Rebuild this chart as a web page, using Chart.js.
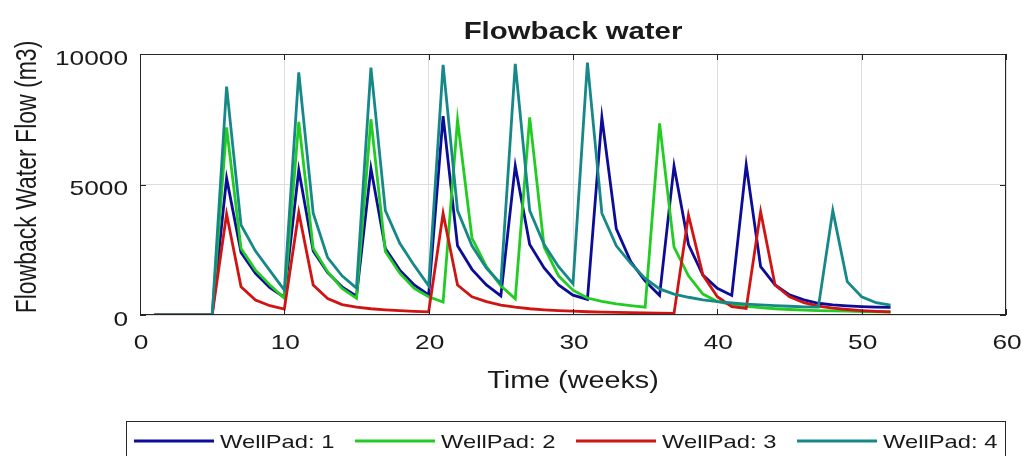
<!DOCTYPE html>
<html>
<head>
<meta charset="utf-8">
<script src="https://cdn.jsdelivr.net/npm/chart.js@4/dist/chart.umd.min.js"></script>
<style>
  html, body { margin: 0; padding: 0; background: #fff; }
  #wrap { width: 1026px; height: 456px; }
</style>
</head>
<body>
<div id="wrap"><canvas id="flowChart" width="1026" height="456"></canvas></div>
<script>
const weeks = [1,2,3,4,5,6,7,8,9,10,11,12,13,14,15,16,17,18,19,20,21,22,23,24,25,26,
  27,28,29,30,31,32,33,34,35,36,37,38,39,40,41,42,43,44,45,46,47,48,49,50,51,52];

const wellPad1 = [0,0,0,0,0,5240,2400,1600,1050,680,5560,2450,1620,1080,720,5620,2550,1720,1150,770,
  7620,2650,1750,1150,730,5710,2700,1800,1150,760,600,7570,3300,2050,1300,750,5710,2700,1530,1020,
  750,5750,1850,1150,770,580,450,390,350,320,300,290];
const wellPad2 = [0,0,0,0,0,7190,2550,1720,1150,640,7400,2550,1660,1020,640,7500,2430,1600,1020,700,
  500,7470,2950,1850,1120,620,7570,2600,1500,950,650,520,430,360,300,7340,2600,1500,800,520,
  400,330,280,240,210,190,170,155,145,135,125,115];
const wellPad3 = [0,0,0,0,0,3870,1085,575,357,230,3930,1150,630,400,300,240,200,165,140,120,
  3890,1150,700,510,380,300,240,200,170,145,125,110,100,90,80,70,60,3830,1530,700,
  320,255,3960,1150,700,470,340,260,210,170,140,120];
const wellPad4 = [0,0,0,0,0,8750,3450,2450,1700,950,9300,3900,2200,1500,1030,9480,4000,2750,1900,1120,
  9580,4000,2650,1800,1200,9620,4000,2700,1850,1200,9670,3900,2650,1980,1400,1000,800,680,580,510,
  460,420,390,360,335,315,300,4000,1280,700,470,380];

const seriesLabels = ['WellPad: 1', 'WellPad: 2', 'WellPad: 3', 'WellPad: 4'];
const seriesValues = [wellPad1, wellPad2, wellPad3, wellPad4];
const seriesColors = ['#0c0c98', '#22cc22', '#d01414', '#168888'];

const xTicks = [0, 10, 20, 30, 40, 50, 60];
const yTicks = [0, 5000, 10000];

const SX = 1.25;           // the reference is stretched sideways
const FONT = '"Liberation Sans", Arial, sans-serif';
const INK = '#1a1a1a';

function stretchedText(ctx, text, x, y, align, font) {
  ctx.save();
  ctx.font = font;
  ctx.fillStyle = INK;
  ctx.textAlign = align;
  ctx.textBaseline = 'middle';
  ctx.translate(x, y);
  ctx.scale(SX, 1);
  ctx.fillText(text, 0, 0);
  ctx.restore();
}

// axes box, inner ticks, labels, title and legend in the matlab look
const matlabFrame = {
  id: 'matlabFrame',
  afterDraw(chart) {
    const ctx = chart.ctx;
    const a = chart.chartArea;
    const xs = chart.scales.x, ys = chart.scales.y;

    ctx.save();
    ctx.strokeStyle = '#262626';
    ctx.lineWidth = 1;
    ctx.strokeRect(a.left + 0.5, a.top + 0.5, a.right - a.left - 1, a.bottom - a.top - 1);
    ctx.beginPath();
    xTicks.forEach(v => {
      const px = Math.round(xs.getPixelForValue(v)) + 0.5;
      ctx.moveTo(px, a.bottom); ctx.lineTo(px, a.bottom - 6);
      ctx.moveTo(px, a.top); ctx.lineTo(px, a.top + 6);
    });
    yTicks.forEach(v => {
      const py = Math.round(ys.getPixelForValue(v)) + 0.5;
      ctx.moveTo(a.left, py); ctx.lineTo(a.left + 6, py);
      ctx.moveTo(a.right, py); ctx.lineTo(a.right - 6, py);
    });
    ctx.stroke();
    ctx.restore();

    const tickFont = '21px ' + FONT;
    xTicks.forEach(v => stretchedText(ctx, String(v), xs.getPixelForValue(v) + 1, a.bottom + 28, 'center', tickFont));
    yTicks.forEach(v => stretchedText(ctx, String(v), a.left - 12, ys.getPixelForValue(v) + 5, 'right', tickFont));

    stretchedText(ctx, 'Flowback water', (a.left + a.right) / 2, 33, 'center', 'bold 23.5px ' + FONT);
    stretchedText(ctx, 'Time (weeks)', (a.left + a.right) / 2, 382, 'center', '23px ' + FONT);

    ctx.save();
    ctx.font = '23px ' + FONT;
    ctx.fillStyle = INK;
    ctx.textAlign = 'center';
    ctx.textBaseline = 'middle';
    ctx.translate(28, 177);
    ctx.rotate(-Math.PI / 2);
    ctx.scale(1, SX);
    ctx.fillText('Flowback Water Flow (m3)', 0, 0);
    ctx.restore();

    // legend
    ctx.save();
    ctx.strokeStyle = '#262626';
    ctx.lineWidth = 1;
    ctx.strokeRect(126.5, 421.5, 879, 60);
    seriesLabels.forEach((lab, i) => {
      const x0 = 134 + i * 221;
      ctx.strokeStyle = seriesColors[i];
      ctx.lineWidth = 3;
      ctx.beginPath();
      ctx.moveTo(x0, 441);
      ctx.lineTo(x0 + 80, 441);
      ctx.stroke();
      stretchedText(ctx, lab, x0 + 86, 443, 'left', '19px ' + FONT);
    });
    ctx.restore();
  }
};

const ctx = document.getElementById('flowChart');

const chart = new Chart(ctx, {
  type: 'line',
  data: {
    labels: weeks,
    datasets: seriesValues.map((vals, i) => ({
      label: seriesLabels[i],
      data: vals.map((v, k) => ({ x: weeks[k], y: v })),
      borderColor: seriesColors[i],
      borderWidth: 2.8,
      pointRadius: 0,
      tension: 0,
      fill: false,
      order: 3 - i
    }))
  },
  options: {
    responsive: false,
    animation: false,
    devicePixelRatio: 1,
    layout: { padding: { left: 140, right: 20, top: 54, bottom: 141 } },
    plugins: {
      legend: { display: false },
      title: { display: false },
      tooltip: { enabled: false }
    },
    scales: {
      x: {
        type: 'linear',
        min: 0,
        max: 60,
        ticks: { display: false, stepSize: 10 },
        grid: { color: '#dedede', lineWidth: 1, drawTicks: false },
        border: { display: false },
        afterFit(scale) { scale.height = 0; }
      },
      y: {
        min: 0,
        max: 10000,
        ticks: { display: false, stepSize: 5000 },
        grid: { color: '#dedede', lineWidth: 1, drawTicks: false },
        border: { display: false },
        afterFit(scale) { scale.width = 0; }
      }
    }
  },
  plugins: [matlabFrame]
});
</script>
</body>
</html>
